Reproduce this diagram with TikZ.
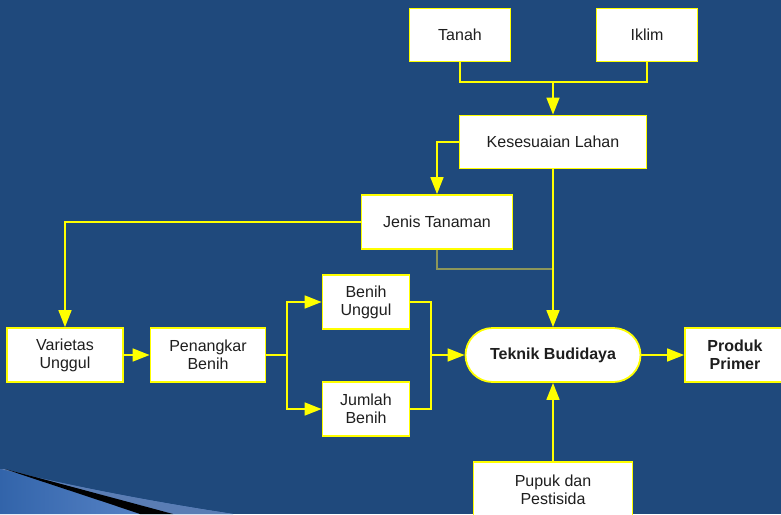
\documentclass[tikz,border=0pt]{standalone}
\usepackage{fontspec}
\setmainfont{Liberation Sans}
\usetikzlibrary{arrows.meta}
\definecolor{bgblue}{RGB}{31,73,124}
\definecolor{lineyel}{RGB}{255,255,0}
\definecolor{olive}{RGB}{140,150,90}
\definecolor{txt}{RGB}{30,30,30}
\definecolor{wedgeA}{RGB}{50,100,170}
\definecolor{wedgeB}{RGB}{110,150,215}
\definecolor{sliver}{RGB}{90,125,180}
\tikzset{
  box/.style={draw=lineyel, line width=1.8pt, fill=white, inner sep=0pt,
    align=center, text=txt, font=\fontsize{16}{18}\selectfont},
  link/.style={draw=lineyel, line width=1.6pt},
  arr/.style={link, -{Triangle[length=17pt,width=13pt]}},
}
\begin{document}
\begin{tikzpicture}[x=1pt,y=-1pt]
  \useasboundingbox (0,0) rectangle (781,514);
  \clip (0,0) rectangle (781,514);
  \fill[bgblue] (0,0) rectangle (781,514);

  % corner ornament, bottom left
  \shade[left color=wedgeA, right color=wedgeB]
    (0,469) .. controls (80,488) and (160,503) .. (233,514) -- (0,514) -- cycle;
  \fill[sliver] (0,469) .. controls (80,488) and (160,503) .. (233,514)
    -- (173,514) .. controls (110,497) and (50,481) .. (5,469) -- cycle;
  \fill[black] (5,469) .. controls (50,481) and (110,497) .. (173,514)
    -- (140,514) .. controls (90,497) and (40,481) .. (5,469) -- cycle;

  % nodes
  \node[box, minimum width=101pt, minimum height=53pt] (tanah) at (460,35) {Tanah};
  \node[box, minimum width=101pt, minimum height=53pt] (iklim) at (647,35) {Iklim};
  \node[box, minimum width=187pt, minimum height=53pt] (kes) at (553,142) {Kesesuaian Lahan};
  \node[box, minimum width=151pt, minimum height=54pt] (jenis) at (437,222) {Jenis Tanaman};
  \node[box, minimum width=116pt, minimum height=54pt] (var) at (65,355) {Varietas\\Unggul};
  \node[box, minimum width=115pt, minimum height=54pt] (pen) at (208,355) {Penangkar\\Benih};
  \node[box, minimum width=87pt, minimum height=54pt] (benih) at (366,302) {Benih\\Unggul};
  \node[box, minimum width=87pt, minimum height=54pt] (jumlah) at (366,409) {Jumlah\\Benih};
  \node[box, minimum width=175pt, minimum height=54pt, rounded corners=27pt,
        font=\fontsize{16}{18}\selectfont\bfseries] (tek) at (553,355) {Teknik Budidaya};
  \node[box, minimum width=100pt, minimum height=54pt,
        font=\fontsize{16}{18}\selectfont\bfseries] (prod) at (735,355) {Produk\\Primer};
  \node[box, minimum width=159pt, minimum height=56pt] (pupuk) at (553,490) {Pupuk dan\\Pestisida};

  % junction points
  \coordinate (top) at (553,82);
  \coordinate (split) at (287,355);
  \coordinate (merge) at (431,355);
  \coordinate (jn) at (553,269);

  % connectors
  \draw[link] (tanah.south) |- (top);
  \draw[link] (iklim.south) |- (top);
  \draw[arr] (top) -- (kes.north);
  \draw[arr] (kes.west) -| (jenis.north);
  \draw[link, draw=olive] (jenis.south) |- (jn);
  \draw[arr] (kes.south) -- (tek.north);
  \draw[arr] (jenis.west) -| (var.north);
  \draw[arr] (var.east) -- (pen.west);
  \draw[link] (pen.east) -- (split);
  \draw[arr] (split) |- (benih.west);
  \draw[arr] (split) |- (jumlah.west);
  \draw[link] (benih.east) -| (merge);
  \draw[link] (jumlah.east) -| (merge);
  \draw[arr] (merge) -- (tek.west);
  \draw[arr] (tek.east) -- (prod.west);
  \draw[arr] (pupuk.north) -- (tek.south);
\end{tikzpicture}
\end{document}
